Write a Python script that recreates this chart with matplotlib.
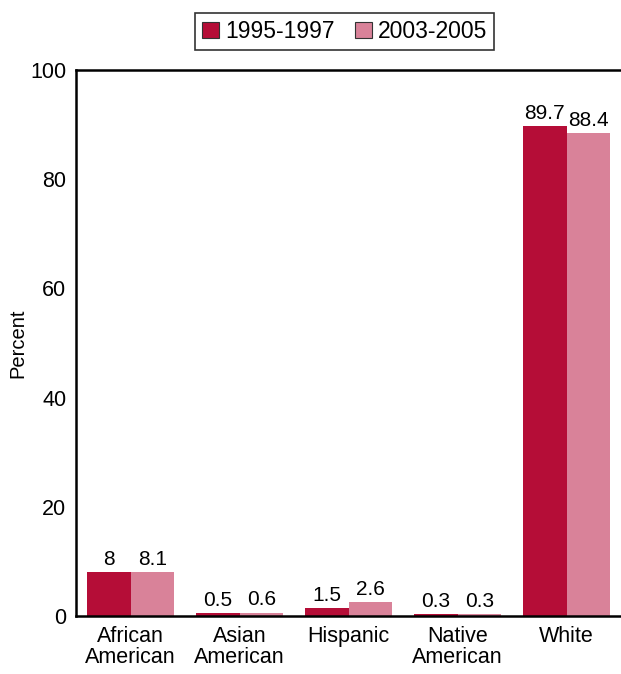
import matplotlib
matplotlib.use("Agg")
import matplotlib.pyplot as plt
import numpy as np

plt.rcParams['font.family'] = ['Liberation Sans', 'DejaVu Sans']

categories = ["African\nAmerican", "Asian\nAmerican", "Hispanic", "Native\nAmerican", "White"]
series_names = ["1995-1997", "2003-2005"]
vals_1995 = [8, 0.5, 1.5, 0.3, 89.7]
vals_2003 = [8.1, 0.6, 2.6, 0.3, 88.4]
labels_1995 = ["8", "0.5", "1.5", "0.3", "89.7"]
labels_2003 = ["8.1", "0.6", "2.6", "0.3", "88.4"]
yticks = [0, 20, 40, 60, 80, 100]

dark = "#B50D37"
light = "#D98299"

fig = plt.figure(figsize=(6.21, 6.74), dpi=100)
ax = fig.add_axes([0.1224, 0.086, 0.8776, 0.81])

x = np.arange(len(categories))
w = 0.4
b1 = ax.bar(x - w / 2, vals_1995, w, color=dark, label=series_names[0])
b2 = ax.bar(x + w / 2, vals_2003, w, color=light, label=series_names[1])

for bars, labs in ((b1, labels_1995), (b2, labels_2003)):
    for r, t in zip(bars, labs):
        ax.text(r.get_x() + r.get_width() / 2, r.get_height() + 0.6, t,
                ha="center", va="bottom", fontsize=15)

ax.set_xlim(-0.5, 4.5)
ax.set_ylim(0, 100)
ax.set_yticks(yticks)
ax.set_xticks(x)
ax.set_xticklabels(categories, fontsize=15.5, linespacing=1.0)
ax.tick_params(axis="both", length=0, labelsize=15.5)
ax.tick_params(axis="y", pad=7)
ax.tick_params(axis="x", pad=7)
ax.set_ylabel("Percent", fontsize=14.5)
ax.yaxis.set_label_coords(-0.09, 0.5)

ax.spines["right"].set_visible(False)
for s in ("left", "bottom", "top"):
    ax.spines[s].set_linewidth(1.8)

leg = ax.legend(loc="lower center", bbox_to_anchor=(0.493, 1.037), ncol=2,
                frameon=True, fancybox=False, edgecolor="black", fontsize=16.5,
                handlelength=0.75, handleheight=0.75, handletextpad=0.25,
                columnspacing=0.9, borderpad=0.3, borderaxespad=0)
leg.get_frame().set_linewidth(1.2)
for h in leg.legend_handles:
    h.set_edgecolor("#333333")
    h.set_linewidth(0.8)

fig.savefig("out.png", dpi=100)
